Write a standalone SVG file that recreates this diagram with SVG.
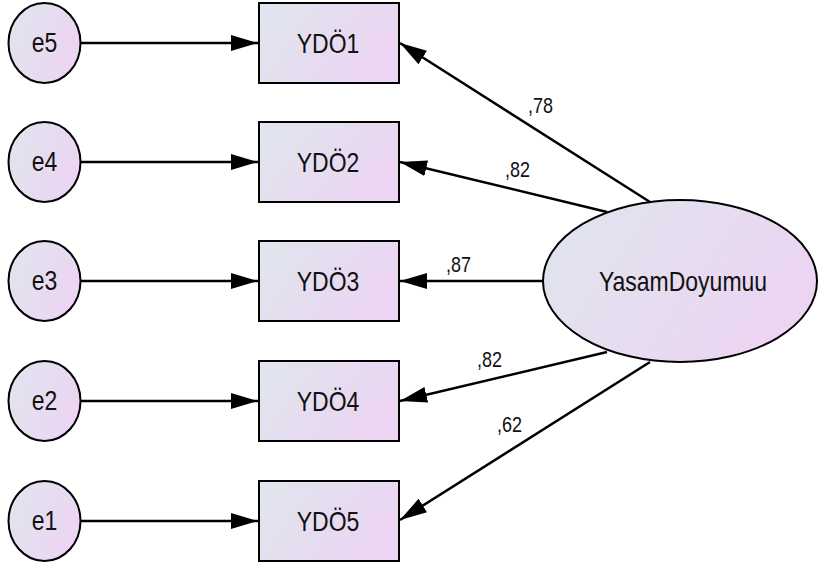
<svg xmlns="http://www.w3.org/2000/svg" width="818" height="570" viewBox="0 0 818 570">
<defs>
<linearGradient id="g" x1="0" y1="0" x2="1" y2="0.4">
<stop offset="0" stop-color="#dfe6ee"/>
<stop offset="1" stop-color="#ecd5f2"/>
</linearGradient>
<marker id="ah" markerUnits="userSpaceOnUse" markerWidth="28" markerHeight="18" refX="27" refY="8" orient="auto" viewBox="0 0 28 16">
<path d="M0,0 L27,8 L0,16 z" fill="#000"/>
</marker>
</defs>
<style>
.n{fill:url(#g);stroke:#000;stroke-width:2}
.t{font-family:"Liberation Sans",Arial,sans-serif;font-size:23px;fill:#111;text-anchor:middle}
.l{font-family:"Liberation Sans",Arial,sans-serif;font-size:18px;fill:#111}
.c{stroke:#000;stroke-width:2.5;fill:none;marker-end:url(#ah)}
</style>
<rect width="818" height="570" fill="#fff"/>
<g id="connectors">
<line class="c" x1="81" y1="43" x2="258" y2="43"/>
<line class="c" x1="81" y1="162" x2="258" y2="162"/>
<line class="c" x1="81" y1="281" x2="258" y2="281"/>
<line class="c" x1="81" y1="401" x2="258" y2="401"/>
<line class="c" x1="81" y1="521" x2="258" y2="521"/>
<line class="c" x1="650" y1="202" x2="400" y2="43"/>
<line class="c" x1="607" y1="212" x2="400" y2="162"/>
<line class="c" x1="543" y1="281" x2="400" y2="281"/>
<line class="c" x1="607" y1="352" x2="400" y2="401"/>
<line class="c" x1="650" y1="362" x2="400" y2="520"/>
<text class="l" transform="translate(528,112.5) scale(1,1.25)">,78</text>
<text class="l" transform="translate(505,177) scale(1,1.25)">,82</text>
<text class="l" transform="translate(446,271.5) scale(1,1.25)">,87</text>
<text class="l" transform="translate(477,366.5) scale(1,1.25)">,82</text>
<text class="l" transform="translate(497,431.5) scale(1,1.25)">,62</text>
</g>
<g id="e5"><ellipse class="n" cx="44.5" cy="43" rx="36" ry="40"/><text class="t" transform="translate(44.5,52) scale(1,1.18)">e5</text></g>
<g id="e4"><ellipse class="n" cx="44.5" cy="162" rx="36" ry="40"/><text class="t" transform="translate(44.5,171) scale(1,1.18)">e4</text></g>
<g id="e3"><ellipse class="n" cx="44.5" cy="281" rx="36" ry="40"/><text class="t" transform="translate(44.5,290) scale(1,1.18)">e3</text></g>
<g id="e2"><ellipse class="n" cx="44.5" cy="401" rx="36" ry="40"/><text class="t" transform="translate(44.5,410) scale(1,1.18)">e2</text></g>
<g id="e1"><ellipse class="n" cx="44.5" cy="521" rx="36" ry="40"/><text class="t" transform="translate(44.5,530) scale(1,1.18)">e1</text></g>
<g id="YDO1"><rect class="n" x="259" y="3" width="140" height="80"/><text class="t" transform="translate(328,53) scale(1,1.18)">YDÖ1</text></g>
<g id="YDO2"><rect class="n" x="259" y="122" width="140" height="80"/><text class="t" transform="translate(328,172) scale(1,1.18)">YDÖ2</text></g>
<g id="YDO3"><rect class="n" x="259" y="241" width="140" height="80"/><text class="t" transform="translate(328,291) scale(1,1.18)">YDÖ3</text></g>
<g id="YDO4"><rect class="n" x="259" y="361" width="140" height="80"/><text class="t" transform="translate(328,411) scale(1,1.18)">YDÖ4</text></g>
<g id="YDO5"><rect class="n" x="259" y="481" width="140" height="80"/><text class="t" transform="translate(328,531) scale(1,1.18)">YDÖ5</text></g>
<g id="YasamDoyumuu"><ellipse class="n" cx="680" cy="281" rx="137" ry="81"/><text class="t" transform="translate(683,291) scale(1,1.18)">YasamDoyumuu</text></g>
</svg>
